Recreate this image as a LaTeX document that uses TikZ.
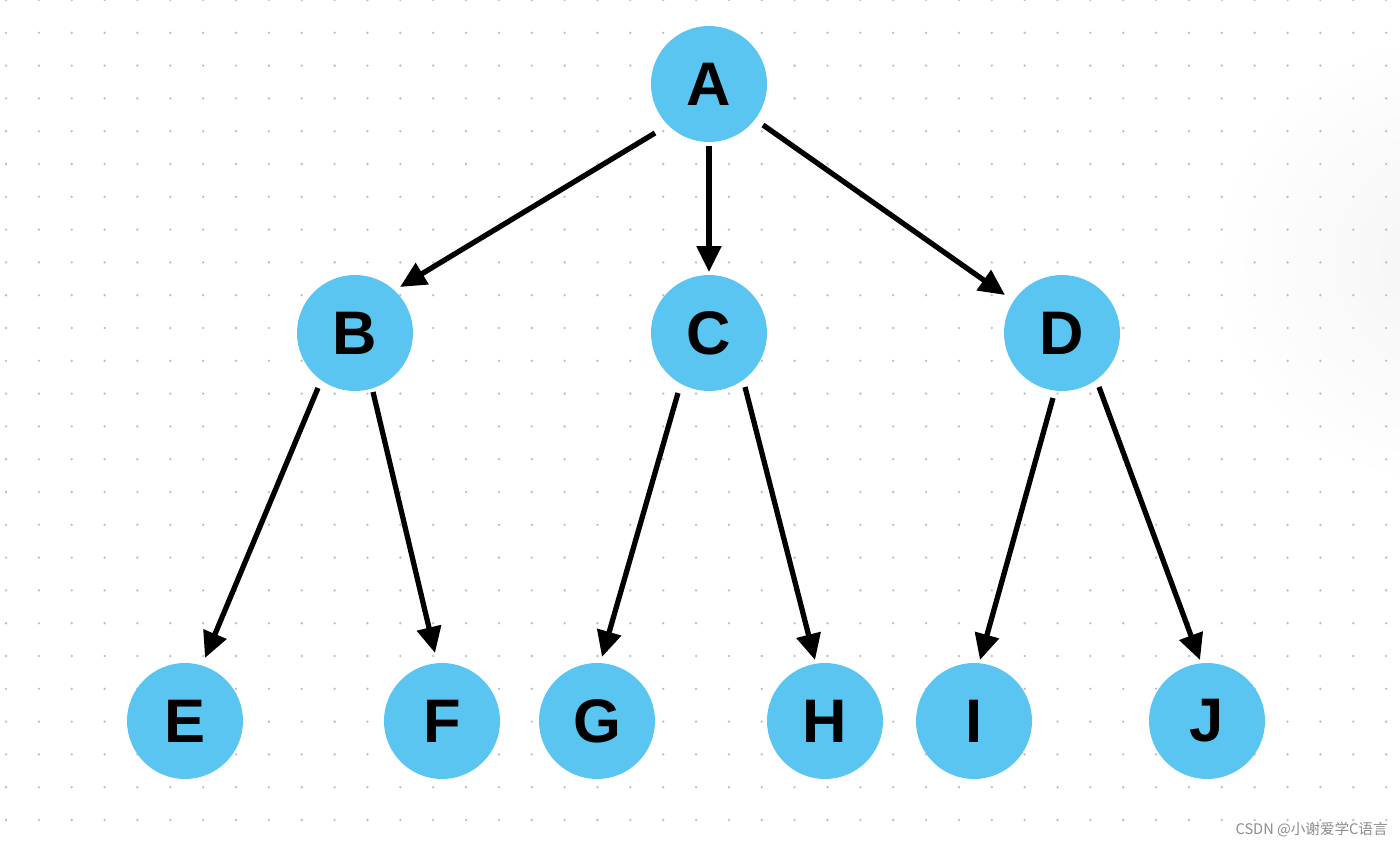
\documentclass[tikz,border=0pt]{standalone}
\usepackage{fontspec}
\setmainfont{Liberation Sans}
\newfontfamily\cjk{Noto Sans CJK SC}
\usetikzlibrary{arrows.meta,calc}
\definecolor{nodeblue}{RGB}{91,197,242}
\definecolor{dotgray}{RGB}{190,190,190}
\tikzset{
  treenode/.style={circle,fill=nodeblue,minimum size=2.32cm,inner sep=0pt,
    font=\fontsize{35}{35}\selectfont\bfseries},
  edgearrow/.style={line width=3pt,-{Triangle[length=0.52cm,width=0.48cm]}},
}
\begin{document}
\begin{tikzpicture}[x=0.02cm,y=-0.02cm]
\useasboundingbox (0,0) rectangle (1400,845);
\fill[white] (0,0) rectangle (1400,845);
\begin{scope}
\clip (0,0) rectangle (1400,845);
\shade[inner color=black!4,outer color=white] (1440,260) circle (230);
\end{scope}
% dot grid
\foreach \i in {0,...,42}{
  \foreach \j in {0,...,25}{
    \fill[dotgray] ({6+32.86*\i},{32.8*\j}) circle (1.3);
  }
}
% nodes
\node[treenode] (A) at (709,84) {A};
\node[treenode] (B) at (355,333) {B};
\node[treenode] (C) at (709,333) {C};
\node[treenode] (D) at (1062,333) {D};
\node[treenode] (E) at (185,721) {E};
\node[treenode] (F) at (442,721) {F};
\node[treenode] (G) at (597,721) {G};
\node[treenode] (H) at (825,721) {H};
\node[treenode] (I) at (974,721) {I};
\node[treenode] (J) at (1207,721) {J};
% edges
\draw[edgearrow] ($(A.center)+(-54,49)$) -- ($(B.center)+(45,-46)$);
\draw[edgearrow] ($(A.center)+(0,62)$) -- ($(C.center)+(0,-61)$);
\draw[edgearrow] ($(A.center)+(54,41)$) -- ($(D.center)+(-57,-38)$);
\draw[edgearrow] ($(B.center)+(-37,55)$) -- ($(E.center)+(20,-63)$);
\draw[edgearrow] ($(B.center)+(18,59)$) -- ($(F.center)+(-7,-68)$);
\draw[edgearrow] ($(C.center)+(-31,60)$) -- ($(G.center)+(5,-64)$);
\draw[edgearrow] ($(C.center)+(36,54)$) -- ($(H.center)+(-10,-61)$);
\draw[edgearrow] ($(D.center)+(-9,65)$) -- ($(I.center)+(6,-61)$);
\draw[edgearrow] ($(D.center)+(37,54)$) -- ($(J.center)+(-7,-61)$);
% watermark
\node[anchor=east,text=black!45,font=\cjk\fontsize{8.3}{8.3}\selectfont,inner sep=0pt] (wm) at (1388,830) {CSDN @小谢爱学C语言};
\end{tikzpicture}
\end{document}
